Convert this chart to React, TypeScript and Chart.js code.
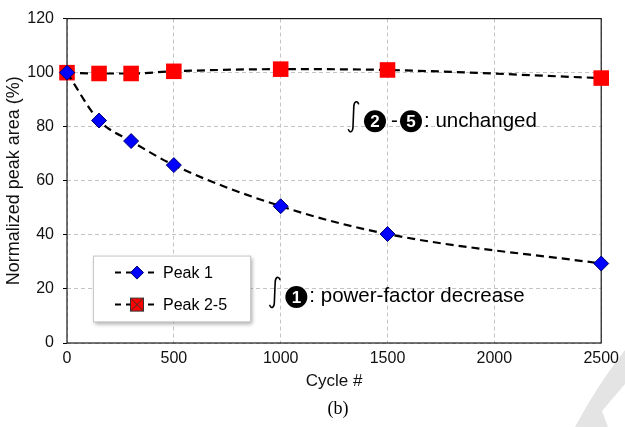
import React, { useEffect, useRef } from "react";
import { Chart, registerables } from "chart.js";

Chart.register(...registerables);

// Cycle numbers at which the peak areas were measured
const cycles = [0, 150, 300, 500, 1000, 1500, 2500];
// Normalized peak areas (%)
const peak1 = [100, 82.3, 74.7, 65.8, 50.6, 40.3, 29.4];
const peak25 = [100, 99.7, 99.7, 100.5, 101.3, 101.0, 98.0];

const seriesNames = ["Peak 1", "Peak 2-5"];
const xTickValues = [0, 500, 1000, 1500, 2000, 2500];
const yTickValues = [0, 20, 40, 60, 80, 100, 120];
const xTitle = "Cycle #";
const yTitle = "Normalized peak area (%)";
const panelLabel = "(b)";

// Annotations: anchor (cycle, %), circled peak numbers, trailing text
const noteUnchanged = { x: 1315, y: 80, digits: ["2", "5"], text: ": unchanged" };
const noteDecrease = { x: 947, y: 15, digits: ["1"], text: ": power-factor decrease" };

const SANS = "'Liberation Sans', Arial, sans-serif";
const SERIF = "'Liberation Serif', 'Times New Roman', serif";

const BLUE = "#0000ff";
const BLUE_EDGE = "#00006e";
const RED = "#ff0000";
const DASH = [8, 5];

function drawIntegral(ctx: CanvasRenderingContext2D, x: number, cy: number) {
  ctx.save();
  ctx.strokeStyle = "#000";
  ctx.lineWidth = 1.6;
  ctx.lineCap = "round";
  ctx.beginPath();
  ctx.moveTo(x + 10.5, cy - 13);
  ctx.bezierCurveTo(x + 9, cy - 16.5, x + 6, cy - 15.5, x + 5.8, cy - 10);
  ctx.lineTo(x + 5, cy + 10);
  ctx.bezierCurveTo(x + 4.8, cy + 15.5, x + 2, cy + 16.5, x + 0.5, cy + 13);
  ctx.stroke();
  ctx.restore();
}

function drawCircled(ctx: CanvasRenderingContext2D, cx: number, cy: number, digit: string) {
  ctx.save();
  ctx.fillStyle = "#000";
  ctx.beginPath();
  ctx.arc(cx, cy, 11, 0, Math.PI * 2);
  ctx.fill();
  ctx.fillStyle = "#fff";
  ctx.font = `bold 17px ${SANS}`;
  ctx.textAlign = "center";
  ctx.textBaseline = "middle";
  ctx.fillText(digit, cx, cy + 1);
  ctx.restore();
}

function drawNote(
  ctx: CanvasRenderingContext2D,
  ax: number,
  base: number,
  digits: string[],
  text: string
) {
  drawIntegral(ctx, ax, base - 10);
  ctx.save();
  ctx.font = `20.5px ${SANS}`;
  ctx.fillStyle = "#000";
  ctx.textBaseline = "alphabetic";
  ctx.textAlign = "left";
  let cx = ax + 27;
  digits.forEach((d, i) => {
    if (i > 0) {
      ctx.fillText("-", cx - 10, base);
      cx += 10;
    }
    drawCircled(ctx, cx, base - 5.5, d);
    cx += 26;
  });
  ctx.fillText(text, cx - 13, base);
  ctx.restore();
}

function drawMarker(ctx: CanvasRenderingContext2D, kind: number, x: number, y: number) {
  ctx.save();
  if (kind === 0) {
    ctx.fillStyle = BLUE;
    ctx.strokeStyle = BLUE_EDGE;
    ctx.lineWidth = 1;
    ctx.beginPath();
    ctx.moveTo(x, y - 6.5);
    ctx.lineTo(x + 6.5, y);
    ctx.lineTo(x, y + 6.5);
    ctx.lineTo(x - 6.5, y);
    ctx.closePath();
    ctx.fill();
    ctx.stroke();
  } else {
    const h = 6.5;
    ctx.fillStyle = RED;
    ctx.fillRect(x - h, y - h, 2 * h, 2 * h);
    ctx.strokeStyle = "#333";
    ctx.lineWidth = 1;
    ctx.strokeRect(x - h, y - h, 2 * h, 2 * h);
    ctx.beginPath();
    ctx.moveTo(x - h, y - h);
    ctx.lineTo(x + h, y + h);
    ctx.moveTo(x + h, y - h);
    ctx.lineTo(x - h, y + h);
    ctx.stroke();
  }
  ctx.restore();
}

const decorPlugin = {
  id: "decor",
  beforeDraw(chart: any) {
    const { ctx, width, height } = chart;
    ctx.save();
    ctx.fillStyle = "#fff";
    ctx.fillRect(0, 0, width, height);
    // pale page-curl stripe in the lower right corner
    ctx.fillStyle = "#e4e4e4";
    ctx.beginPath();
    ctx.moveTo(625, 350);
    ctx.quadraticCurveTo(598, 384, 575, 427);
    ctx.lineTo(608, 427);
    ctx.lineTo(602, 411);
    ctx.lineTo(625, 384);
    ctx.closePath();
    ctx.fill();
    ctx.restore();
  },
  beforeDatasetsDraw(chart: any) {
    const { ctx, chartArea: a } = chart;
    ctx.save();
    ctx.strokeStyle = "#1a1a1a";
    ctx.lineWidth = 1.2;
    ctx.strokeRect(a.left, a.top, a.right - a.left, a.bottom - a.top);
    ctx.restore();
  },
  afterDraw(chart: any) {
    const { ctx, chartArea: a, scales } = chart;
    const xs = scales.x;
    const ys = scales.y;

    // annotations
    drawNote(ctx, xs.getPixelForValue(noteUnchanged.x), ys.getPixelForValue(noteUnchanged.y), noteUnchanged.digits, noteUnchanged.text);
    drawNote(ctx, xs.getPixelForValue(noteDecrease.x), ys.getPixelForValue(noteDecrease.y), noteDecrease.digits, noteDecrease.text);

    // legend box
    const bx = a.left + 26;
    const by = a.top + 237;
    const bw = 157;
    const bh = 66;
    ctx.save();
    ctx.shadowColor = "rgba(0,0,0,0.35)";
    ctx.shadowBlur = 4;
    ctx.shadowOffsetX = 2;
    ctx.shadowOffsetY = 2;
    ctx.fillStyle = "#fff";
    ctx.fillRect(bx, by, bw, bh);
    ctx.restore();
    ctx.save();
    ctx.strokeStyle = "#c8c8c8";
    ctx.lineWidth = 1;
    ctx.strokeRect(bx + 0.5, by + 0.5, bw, bh);
    seriesNames.forEach((name, i) => {
      const ly = by + 17 + i * 32;
      ctx.strokeStyle = "#000";
      ctx.lineWidth = 2;
      ctx.setLineDash([6, 5]);
      ctx.beginPath();
      ctx.moveTo(bx + 22, ly);
      ctx.lineTo(bx + 66, ly);
      ctx.stroke();
      ctx.setLineDash([]);
      drawMarker(ctx, i, bx + 44, ly);
      ctx.fillStyle = "#000";
      ctx.font = `16px ${SANS}`;
      ctx.textAlign = "left";
      ctx.textBaseline = "middle";
      ctx.fillText(name, bx + 70, ly + 1);
    });
    ctx.restore();

    // panel label
    ctx.save();
    ctx.fillStyle = "#000";
    ctx.font = `18px ${SERIF}`;
    ctx.textAlign = "center";
    ctx.textBaseline = "middle";
    ctx.fillText(panelLabel, (a.left + a.right) / 2 + 4, 409);
    ctx.restore();
  },
};

export default function App() {
  const canvasRef = useRef<HTMLCanvasElement | null>(null);

  useEffect(() => {
    const canvas = canvasRef.current;
    if (!canvas) return;
    const chart = new Chart(canvas, {
      type: "line",
      data: {
        datasets: [
          {
            label: seriesNames[0],
            data: cycles.map((c, i) => ({ x: c, y: peak1[i] })),
            borderColor: "#000",
            borderWidth: 2.2,
            borderDash: DASH,
            cubicInterpolationMode: "monotone",
            pointStyle: "rectRot",
            pointRadius: 7.5,
            pointBackgroundColor: BLUE,
            pointBorderColor: BLUE_EDGE,
            pointBorderWidth: 1,
            clip: false,
          },
          {
            label: seriesNames[1],
            data: cycles.map((c, i) => ({ x: c, y: peak25[i] })),
            borderColor: "#000",
            borderWidth: 2.2,
            borderDash: DASH,
            cubicInterpolationMode: "monotone",
            pointStyle: "rect",
            pointRadius: 11,
            pointBackgroundColor: RED,
            pointBorderColor: RED,
            pointBorderWidth: 0,
            clip: false,
          },
        ],
      },
      options: {
        animation: false,
        responsive: true,
        maintainAspectRatio: false,
        events: [],
        layout: { padding: { top: 15, right: 17, bottom: 33, left: 0 } },
        plugins: {
          legend: { display: false },
          tooltip: { enabled: false },
        },
        scales: {
          x: {
            type: "linear",
            min: 0,
            max: 2500,
            afterBuildTicks: (s: any) => {
              s.ticks = xTickValues.map((v) => ({ value: v }));
            },
            afterFit: (s: any) => {
              s.height = 51;
            },
            ticks: {
              color: "#111",
              font: { family: SANS, size: 16 },
              padding: 6,
              maxRotation: 0,
              autoSkip: false,
              callback: (v: any) => String(v),
            },
            grid: {
              color: "#c4c4c4",
              lineWidth: 1,
              drawTicks: false,
              tickLength: 0,
            },
            border: { display: false, dash: [4, 3] },
            title: {
              display: true,
              text: xTitle,
              color: "#111",
              font: { family: SANS, size: 17 },
              padding: { top: 0, bottom: 2 },
            },
          },
          y: {
            type: "linear",
            min: 0,
            max: 120,
            afterBuildTicks: (s: any) => {
              s.ticks = yTickValues.map((v) => ({ value: v }));
            },
            afterFit: (s: any) => {
              s.width = 67;
            },
            ticks: {
              color: "#111",
              font: { family: SANS, size: 16 },
              padding: 9,
              autoSkip: false,
              callback: (v: any) => String(v),
            },
            grid: {
              color: "#c4c4c4",
              lineWidth: 1,
              tickColor: "#000",
              tickLength: 4,
              tickBorderDash: [],
            },
            border: { display: false, dash: [4, 3] },
            title: {
              display: true,
              text: yTitle,
              color: "#111",
              font: { family: SANS, size: 18 },
              padding: { top: 3, bottom: 0 },
            },
          },
        },
      },
      plugins: [decorPlugin],
    } as any);
    return () => chart.destroy();
  }, []);

  return (
    <div style={{ position: "fixed", left: 0, top: 0, width: 625, height: 427, background: "#fff" }}>
      <canvas ref={canvasRef} />
    </div>
  );
}
